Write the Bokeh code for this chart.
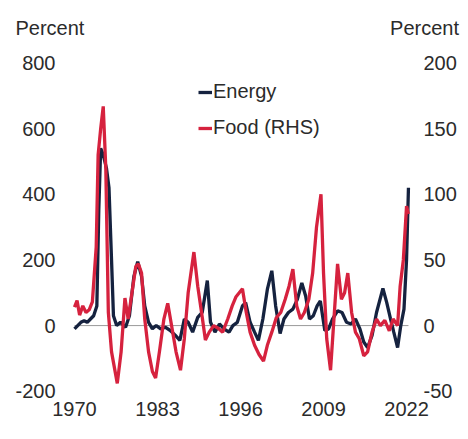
from bokeh.plotting import figure
from bokeh.models import Range1d, LinearAxis, FixedTicker, Legend, LegendItem, Title
from bokeh.embed import file_html
from bokeh.resources import INLINE

# ---- data ----
energy_years = [1970.0, 1970.5, 1971.0, 1971.5, 1972.0, 1972.5, 1973.0, 1973.5, 1973.8, 1974.1,
                1974.5, 1975.0, 1975.4, 1975.8, 1976.1, 1976.6, 1977.2, 1978.0, 1978.6, 1979.3,
                1979.9, 1980.5, 1981.0, 1981.6, 1982.2, 1982.8, 1983.5, 1984.2, 1985.0, 1985.8,
                1986.5, 1987.2, 1987.8, 1988.5, 1989.3, 1990.0, 1990.8, 1991.3, 1992.0, 1992.7,
                1993.4, 1994.2, 1994.8, 1995.5, 1996.3, 1996.8, 1997.5, 1998.2, 1998.8, 1999.5,
                2000.2, 2000.9, 2001.5, 2002.2, 2002.8, 2003.5, 2004.2, 2004.9, 2005.6, 2006.2,
                2006.8, 2007.4, 2008.0, 2008.5, 2009.2, 2009.8, 2010.4, 2011.2, 2011.9, 2012.6,
                2013.3, 2014.0, 2014.7, 2015.3, 2015.9, 2016.6, 2017.3, 2018.3, 2018.9, 2019.5,
                2020.0, 2020.6, 2021.1, 2021.6, 2022.0, 2022.3]
energy = [-10, 0, 10, 15, 10, 20, 30, 60, 350, 540,
          520, 480, 420, 200, 30, 0, 10, -5, 30, 150,
          195, 150, 60, 10, -10, 0, -10, -5, -15, -30,
          -45, 20, 10, -20, 25, 40, 137, 10, -20, 5,
          -10, -20, 0, 10, 60, 70, 10, -20, -45, 20,
          110, 167, 60, -24, 20, 40, 50, 80, 130, 90,
          20, 30, 60, 75, -15, -10, 20, 45, 40, 10,
          5, 20, -10, -50, -67, -30, 40, 113, 70, 20,
          -20, -67, 0, 50, 200, 420]

food_years = [1970.0, 1970.4, 1970.8, 1971.3, 1971.8, 1972.3, 1972.8, 1973.4, 1973.7, 1974.1,
              1974.5, 1974.9, 1975.3, 1975.8, 1976.7, 1977.3, 1977.9, 1978.4, 1979.0, 1979.6,
              1980.0, 1980.5, 1981.0, 1981.6, 1982.2, 1982.7, 1983.3, 1984.0, 1984.6, 1985.2,
              1985.9, 1986.6, 1987.2, 1987.8, 1988.7, 1989.3, 1989.9, 1990.5, 1991.1, 1991.8,
              1992.5, 1993.2, 1994.0, 1994.7, 1995.3, 1996.3, 1996.9, 1997.5, 1998.2, 1998.9,
              1999.6, 2000.2, 2000.9, 2001.6, 2002.3, 2003.0, 2003.6, 2004.2, 2004.8, 2005.4,
              2006.0, 2006.7, 2007.3, 2007.9, 2008.6, 2009.0, 2009.5, 2010.1, 2010.7, 2011.2,
              2011.8, 2012.3, 2012.8, 2013.4, 2014.0, 2014.6, 2015.3, 2015.9, 2016.6, 2017.3,
              2017.9, 2018.6, 2019.3, 2019.9, 2020.6, 2021.0, 2021.5, 2022.0, 2022.3]
food = [14, 19, 8, 15, 10, 12, 18, 60, 130, 150,
        167, 120, 10, -20, -44, -20, 21, 5, 25, 45,
        47, 40, 5, -20, -35, -40, -20, 5, 17, 0,
        -20, -34, -10, 25, 56, 30, 10, -11, -5, 0,
        -2, -5, 5, 15, 22, 28, 10, -5, -15, -22,
        -27, -15, -5, 6, 10, 20, 30, 43, 15, 5,
        10, 20, 40, 75, 100, 40, -10, -34, 10, 47,
        20, 25, 40, 10, -5, -10, -23, -20, -5, 5,
        0, 4, -4, 5, 0, 30, 50, 91, 85]

x_ticks = [1970, 1983, 1996, 2009, 2022]
left_ticks = [-200, 0, 200, 400, 600, 800]
right_ticks = [-50, 0, 50, 100, 150, 200]
series_names = ["Energy", "Food (RHS)"]
axis_title = "Percent"

FONT = "Liberation Sans"
TXT = "#2b2b2b"
NAVY = "#15223f"
RED = "#d6223e"

p = figure(frame_width=354, frame_height=338, output_backend="svg", toolbar_location=None,
           x_range=Range1d(1968.12, 2023.56), y_range=Range1d(-210, 820),
           min_border_left=62, min_border_right=44, min_border_top=55, min_border_bottom=38)
p.extra_y_ranges = {"food": Range1d(-52.5, 205)}
p.outline_line_color = None
p.grid.visible = False
p.background_fill_color = "white"
p.border_fill_color = "white"

def style_axis(ax, ticks):
    ax.ticker = FixedTicker(ticks=ticks)
    ax.axis_line_color = None
    ax.major_tick_line_color = None
    ax.minor_tick_line_color = None
    ax.major_tick_out = 0
    ax.major_tick_in = 0
    ax.minor_tick_out = 0
    ax.minor_tick_in = 0
    ax.major_label_text_font = FONT
    ax.major_label_text_font_size = "20px"
    ax.major_label_text_color = TXT
    ax.major_label_standoff = 7
    ax.major_label_overrides = {t: str(t) for t in ticks if t < 0}

style_axis(p.xaxis[0], x_ticks)
style_axis(p.yaxis[0], left_ticks)
right = LinearAxis(y_range_name="food")
style_axis(right, right_ticks)
p.add_layout(right, "right")

# zero line
p.line([energy_years[0], energy_years[-1]], [0, 0], line_color="#9a9a9a", line_width=1)

r_e = p.line(energy_years, energy, line_color=NAVY, line_width=3.3)
r_f = p.line(food_years, food, line_color=RED, line_width=3.3, y_range_name="food")

legend = Legend(items=[LegendItem(label=series_names[0], renderers=[r_e]),
                       LegendItem(label=series_names[1], renderers=[r_f])],
                location=(136, 255), orientation="vertical",
                background_fill_alpha=0, border_line_color=None,
                padding=0, margin=0, spacing=13,
                glyph_width=14, glyph_height=20, label_height=20, label_standoff=1,
                label_text_font=FONT, label_text_font_size="20px", label_text_color=TXT)
p.add_layout(legend, "center")

# left and right "Percent" unit titles on one header line (non-breaking spaces between)
header = axis_title + "\u00a0" * 55 + axis_title
p.title = Title(text=header, align="left", offset=-47, standoff=32, vertical_align="top",
                text_font=FONT, text_font_size="20px", text_font_style="normal", text_color=TXT)

open("out.html", "w").write(file_html(p, INLINE))
